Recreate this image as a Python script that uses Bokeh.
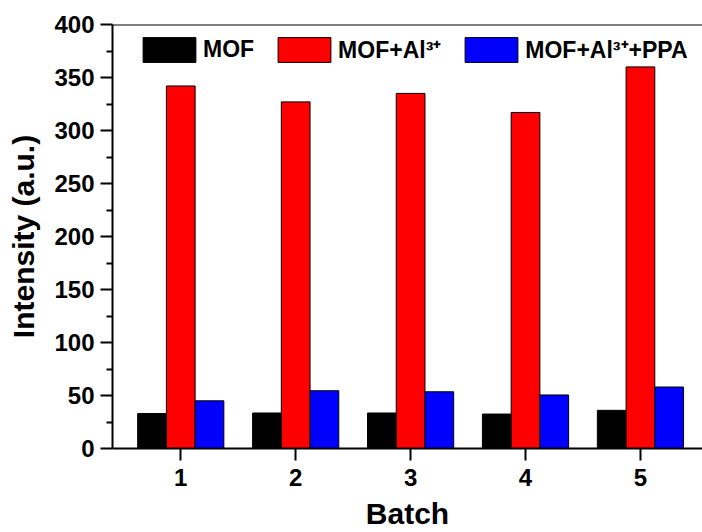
from bokeh.plotting import figure
from bokeh.models import (ColumnDataSource, FixedTicker, Legend, LegendItem, Span, Range1d)
from bokeh.transform import dodge
from bokeh.embed import file_html
from bokeh.resources import INLINE

batch = [1, 2, 3, 4, 5]
mof = [33, 33.5, 33.5, 32.5, 36]
mof_al = [342, 327, 335, 317, 360]
mof_al_ppa = [45, 54.5, 53.5, 50.5, 58]
series_names = ["MOF", "MOF+Al³⁺", "MOF+Al³⁺+PPA"]
y_ticks = [0, 50, 100, 150, 200, 250, 300, 350, 400]

FONT = "Liberation Sans"

src = ColumnDataSource(dict(batch=batch, mof=mof, mof_al=mof_al, mof_al_ppa=mof_al_ppa))

p = figure(width=702, height=532, output_backend="svg", toolbar_location=None,
           x_range=Range1d(0.406, 5.54), y_range=Range1d(0, 400),
           min_border_left=112, min_border_right=0, min_border_top=24, min_border_bottom=84)
p.outline_line_color = None
p.xgrid.visible = False
p.ygrid.visible = False
p.background_fill_color = "white"
p.border_fill_color = "white"

r1 = p.vbar(x=dodge("batch", -0.25, range=p.x_range), top="mof", width=0.25, source=src,
            fill_color="#000000", line_color="#000000", line_width=1)
r2 = p.vbar(x=dodge("batch", 0.0, range=p.x_range), top="mof_al", width=0.25, source=src,
            fill_color="#FF0000", line_color="#000000", line_width=1)
r3 = p.vbar(x=dodge("batch", 0.25, range=p.x_range), top="mof_al_ppa", width=0.25, source=src,
            fill_color="#0000FF", line_color="#000000", line_width=1)

p.add_layout(Span(location=400, dimension="width", line_color="black", line_width=2))

p.xaxis.ticker = FixedTicker(ticks=batch)
p.yaxis.ticker = FixedTicker(ticks=y_ticks, minor_ticks=[25, 75, 125, 175, 225, 275, 325, 375])

for ax in (p.xaxis, p.yaxis):
    ax.axis_line_width = 2
    ax.axis_line_color = "black"
    ax.major_tick_line_width = 2
    ax.major_tick_line_color = "black"
    ax.major_tick_in = 0
    ax.major_tick_out = 12
    ax.minor_tick_in = 0
    ax.minor_tick_out = 6
    ax.minor_tick_line_width = 2
    ax.minor_tick_line_color = "black"
    ax.major_label_text_font = FONT
    ax.major_label_text_font_style = "bold"
    ax.major_label_text_font_size = "24px"
    ax.major_label_text_color = "black"
    ax.axis_label_text_font = FONT
    ax.axis_label_text_font_style = "bold"
    ax.axis_label_text_font_size = "30px"
    ax.axis_label_text_color = "black"

p.xaxis.minor_tick_line_color = None
p.xaxis.major_label_standoff = 8
p.xaxis.axis_label = "Batch"
p.xaxis.axis_label_standoff = 8
p.yaxis.major_label_standoff = 6
p.yaxis.axis_label = "Intensity (a.u.)"
p.yaxis.axis_label_standoff = 11

legend = Legend(items=[LegendItem(label=series_names[0], renderers=[r1]),
                       LegendItem(label=series_names[1], renderers=[r2]),
                       LegendItem(label=series_names[2], renderers=[r3])],
                orientation="horizontal", location=(24, 383),
                glyph_width=66, glyph_height=31, label_standoff=1, spacing=17,
                padding=0, margin=0, border_line_color=None, background_fill_alpha=0,
                label_text_font=FONT, label_text_font_style="bold",
                label_text_font_size="23px", label_text_color="black")
p.add_layout(legend)

open("out.html", "w").write(file_html(p, INLINE))
